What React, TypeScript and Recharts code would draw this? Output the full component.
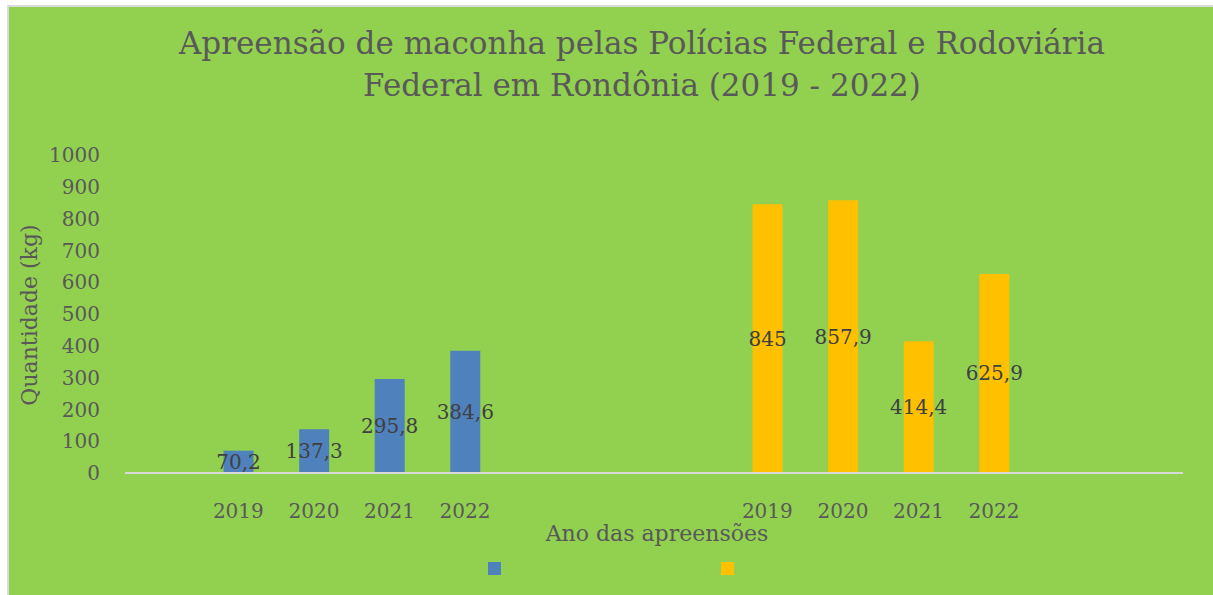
import React from 'react';
import { BarChart, Bar, XAxis, YAxis, LabelList, Legend } from 'recharts';

const categories = ['', '2019', '2020', '2021', '2022', '', '', '', '2019', '2020', '2021', '2022', '', ''];
const pfValues: (number | null)[] = [null, 70.2, 137.3, 295.8, 384.6, null, null, null, null, null, null, null, null, null];
const prfValues: (number | null)[] = [null, null, null, null, null, null, null, null, 845, 857.9, 414.4, 625.9, null, null];
const yTicks = [0, 100, 200, 300, 400, 500, 600, 700, 800, 900, 1000];
const titleLines = ['Apreensão de maconha pelas Polícias Federal e Rodoviária', 'Federal em Rondônia (2019 - 2022)'];
const yAxisTitle = 'Quantidade (kg)';
const xAxisTitle = 'Ano das apreensões';

const data = categories.map((ano, i) => ({ ano, pf: pfValues[i], prf: prfValues[i] }));

const FONT = '"DejaVu Serif", serif';
const GRAY = '#595959';

const fmt = (v: number) => String(v).replace('.', ',');

const CenterLabel = (props: any) => {
  const { x, y, width, height, value } = props;
  if (value === null || value === undefined) return null;
  return (
    <text
      x={Number(x) + Number(width) / 2}
      y={Number(y) + Number(height) / 2}
      textAnchor="middle"
      dominantBaseline="central"
      fontFamily={FONT}
      fontSize={20}
      fill="#404040"
    >
      {fmt(value)}
    </text>
  );
};

const LegendContent = (props: any) => {
  const payload = props.payload || [];
  return (
    <div
      style={{
        height: 40,
        boxSizing: 'border-box',
        paddingTop: 9,
        display: 'flex',
        justifyContent: 'center',
        alignItems: 'flex-start',
        gap: 220,
      }}
    >
      {payload.map((p: any, i: number) => (
        <div key={i} style={{ width: 13, height: 13, background: p.color }} />
      ))}
    </div>
  );
};

export default function App() {
  return (
    <div
      style={{
        position: 'absolute',
        left: 7,
        top: 5,
        width: 1204,
        height: 588,
        borderTop: '2px solid #D9D9D9',
        borderLeft: '2px solid #D9D9D9',
        background: '#92D050',
        overflow: 'hidden',
      }}
    >
      <div
        style={{
          position: 'absolute',
          left: 33,
          top: 15,
          width: 1200,
          textAlign: 'center',
          fontFamily: FONT,
          fontSize: 31,
          lineHeight: '42px',
          color: GRAY,
          whiteSpace: 'nowrap',
        }}
      >
        <div>{titleLines[0]}</div>
        <div>{titleLines[1]}</div>
      </div>
      <div
        style={{
          position: 'absolute',
          left: 21 - 150,
          top: 308 - 13,
          width: 300,
          height: 26,
          lineHeight: '26px',
          textAlign: 'center',
          transform: 'rotate(-90deg)',
          fontFamily: FONT,
          fontSize: 22,
          color: GRAY,
          whiteSpace: 'nowrap',
        }}
      >
        {yAxisTitle}
      </div>
      <div
        style={{
          position: 'absolute',
          left: 648 - 200,
          top: 514,
          width: 400,
          height: 26,
          lineHeight: '26px',
          textAlign: 'center',
          fontFamily: FONT,
          fontSize: 22,
          color: GRAY,
          whiteSpace: 'nowrap',
        }}
      >
        {xAxisTitle}
      </div>
      <BarChart
        width={1204}
        height={586}
        data={data}
        margin={{ top: 148, right: 30, bottom: 0, left: 0 }}
        style={{ position: 'absolute', left: 0, top: 0 }}
      >
        <XAxis
          dataKey="ano"
          height={80}
          interval={0}
          tickLine={false}
          tickSize={0}
          tickMargin={31}
          axisLine={{ stroke: '#D9D9D9', strokeWidth: 2 }}
          tick={{ fill: GRAY, fontSize: 20, fontFamily: FONT }}
        />
        <YAxis
          width={116}
          domain={[0, 1000]}
          ticks={yTicks}
          interval={0}
          axisLine={false}
          tickLine={false}
          tickSize={0}
          tickMargin={25}
          tick={{ fill: GRAY, fontSize: 20, fontFamily: FONT }}
        />
        <Legend
          verticalAlign="bottom"
          content={<LegendContent />}
          wrapperStyle={{ left: 0, width: 1204 }}
        />
        <Bar dataKey="pf" name="" stackId="a" fill="#4F81BD" barSize={30} isAnimationActive={false}>
          <LabelList dataKey="pf" content={<CenterLabel />} />
        </Bar>
        <Bar dataKey="prf" name="" stackId="a" fill="#FFC000" barSize={30} isAnimationActive={false}>
          <LabelList dataKey="prf" content={<CenterLabel />} />
        </Bar>
      </BarChart>
    </div>
  );
}
